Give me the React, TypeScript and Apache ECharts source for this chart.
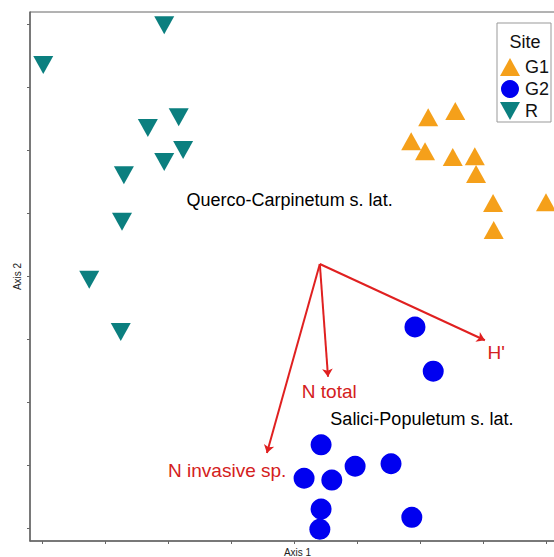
import React, { useEffect, useRef } from "react";
import * as echarts from "echarts";

// Ordination scores (arbitrary axis units, one unit per tick)
const siteG1: number[][] = [
  [6.13, 6.52], [6.56, 6.62], [5.86, 6.14], [6.08, 5.98], [6.52, 5.89],
  [6.87, 5.9], [6.89, 5.62], [7.16, 5.16], [8.0, 5.17], [7.17, 4.73],
];
const siteG2: number[][] = [
  [5.92, 3.19], [6.21, 2.49], [4.43, 1.32], [4.16, 0.79], [4.6, 0.76],
  [4.97, 0.98], [5.54, 1.02], [4.43, 0.3], [4.41, -0.02], [5.87, 0.17],
];
const siteR: number[][] = [
  [1.94, 7.98], [0.02, 7.35], [1.68, 6.35], [2.17, 6.52], [1.94, 5.81],
  [2.24, 6.0], [1.3, 5.6], [1.27, 4.86], [0.75, 3.94], [1.25, 3.11],
];
const arrowOrigin: number[] = [4.41, 4.19];
const arrowNames: string[] = ["H'", "N total", "N invasive sp."];
const arrowTips: number[][] = [[7.03, 2.98], [4.54, 2.4], [3.57, 1.19]];
const arrowLabelPos: number[][] = [[7.21, 2.79], [4.56, 2.16], [2.94, 0.92]];
const groupNames: string[] = ["Querco-Carpinetum s. lat.", "Salici-Populetum s. lat."];
const groupLabelPos: number[][] = [[3.93, 5.21], [6.03, 1.73]];
const tickValues: number[] = [0, 1, 2, 3, 4, 5, 6, 7, 8];

const FONT = "Liberation Sans, Arial, sans-serif";
const ORANGE = "#F5A01A";
const BLUE = "#0000F0";
const TEAL = "#0B7F7F";
const RED = "#E02020";
const DOWN_TRI = "path://M0,0 L20,0 L10,18 Z";

export default function App() {
  const ref = useRef<HTMLDivElement>(null);
  useEffect(() => {
    if (!ref.current) return;
    const chart = echarts.init(ref.current, null, { renderer: "svg" });
    const textLabel = (color: string, size: number) => ({
      show: true,
      position: "inside",
      formatter: "{b}",
      fontSize: size,
      color,
      opacity: 1,
      textBorderWidth: 0,
      fontFamily: FONT,
    });
    const option: any = {
      animation: false,
      backgroundColor: "#ffffff",
      textStyle: { fontFamily: FONT },
      grid: {
        left: 30,
        top: 12,
        width: 535,
        height: 529,
        outerBoundsMode: "none",
        containLabel: false,
        show: true,
        borderColor: "#666",
        borderWidth: 1,
        backgroundColor: "transparent",
      },
      xAxis: {
        type: "value",
        min: -12 / 63,
        max: 523 / 63,
        name: "Axis 1",
        nameLocation: "middle",
        nameGap: 6,
        nameTextStyle: { fontSize: 10, color: "#222", fontFamily: FONT },
        axisLine: { show: true, onZero: false, lineStyle: { color: "#666", width: 1.5 } },
        axisTick: { show: true, length: 3, customValues: tickValues, lineStyle: { color: "#666" } },
        axisLabel: { show: false },
        splitLine: { show: false },
      },
      yAxis: {
        type: "value",
        min: -13 / 63,
        max: 516 / 63,
        name: "Axis 2",
        nameLocation: "middle",
        nameGap: 8,
        nameTextStyle: { fontSize: 10, color: "#222", fontFamily: FONT },
        axisLine: { show: true, onZero: false, lineStyle: { color: "#666", width: 1.5 } },
        axisTick: { show: true, length: 3, customValues: tickValues, lineStyle: { color: "#666" } },
        axisLabel: { show: false },
        splitLine: { show: false },
      },
      legend: {
        orient: "vertical",
        left: 497,
        top: 23,
        padding: [34, 2, 1, 3],
        itemWidth: 20,
        itemHeight: 18,
        itemGap: 2,
        borderColor: "#999",
        borderWidth: 1,
        backgroundColor: "#fff",
        textStyle: { fontSize: 18, color: "#111", fontFamily: FONT, lineHeight: 20 },
        data: [
          { name: "G1", icon: "triangle" },
          { name: "G2", icon: "circle" },
          { name: "R", icon: DOWN_TRI },
        ],
      },
      graphic: [
        {
          type: "text",
          x: 525,
          y: 42,
          z: 100,
          style: {
            text: "Site",
            fontSize: 18,
            fill: "#111",
            fontFamily: FONT,
            textAlign: "center",
            textVerticalAlign: "middle",
          },
        },
      ],
      series: [
        {
          type: "lines",
          coordinateSystem: "cartesian2d",
          silent: true,
          symbol: ["none", "arrow"],
          symbolSize: 8,
          lineStyle: { color: RED, width: 2, opacity: 1 },
          data: arrowTips.map((t) => ({ coords: [arrowOrigin, t] })),
          z: 3,
        },
        {
          name: "G1",
          type: "scatter",
          symbol: "triangle",
          symbolSize: [20, 18],
          itemStyle: { color: ORANGE, opacity: 1 },
          data: siteG1,
          z: 4,
        },
        {
          name: "G2",
          type: "scatter",
          symbol: "circle",
          symbolSize: 21,
          itemStyle: { color: BLUE, opacity: 1 },
          data: siteG2,
          z: 4,
        },
        {
          name: "R",
          type: "scatter",
          symbol: DOWN_TRI,
          symbolSize: [20, 18],
          itemStyle: { color: TEAL, opacity: 1 },
          data: siteR,
          z: 4,
        },
        {
          type: "scatter",
          silent: true,
          symbolSize: 1,
          itemStyle: { color: "transparent", opacity: 1 },
          label: textLabel("#D42020", 19),
          data: arrowNames.map((n, i) => ({ name: n, value: arrowLabelPos[i] })),
          z: 5,
        },
        {
          type: "scatter",
          silent: true,
          symbolSize: 1,
          itemStyle: { color: "transparent", opacity: 1 },
          label: textLabel("#000", 18),
          data: groupNames.map((n, i) => ({ name: n, value: groupLabelPos[i] })),
          z: 5,
        },
      ],
    };
    chart.setOption(option);
    return () => chart.dispose();
  }, []);
  return (
    <div
      ref={ref}
      style={{ position: "fixed", left: 0, top: 0, width: 554, height: 557, background: "#fff" }}
    />
  );
}
